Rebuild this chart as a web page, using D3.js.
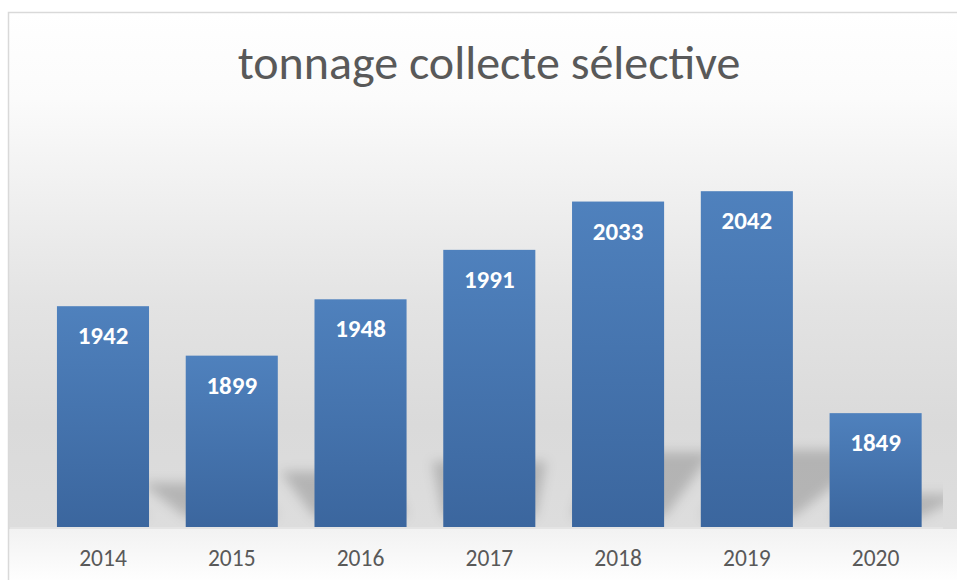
<!DOCTYPE html>
<html>
<head>
<meta charset="utf-8">
<script src="https://cdn.jsdelivr.net/npm/d3@7"></script>
<style>
  html, body { margin: 0; padding: 0; background: #fff; }
  svg { display: block; }
</style>
</head>
<body>
<div class="chart"></div>
<script>
// données
const years = ['2014', '2015', '2016', '2017', '2018', '2019', '2020']
const tonnage = [1942, 1899, 1948, 1991, 2033, 2042, 1849]
const yDomain = [1750, 2100]
const title = 'tonnage collecte sélective'

const W = 957, H = 580
const plot = { left: 38.6, right: 940, top: 124.5, bottom: 527 }
const font = 'Carlito, Calibri, Lato, sans-serif'

const svg = d3.select('.chart')
    .append('svg')
    .attr('width', W)
    .attr('height', H)

const defs = svg.append('defs')

// fond du graphique : dégradé blanc -> gris
const bg = defs.append('linearGradient')
    .attr('id', 'bg')
    .attr('gradientUnits', 'userSpaceOnUse')
    .attr('x1', 0).attr('y1', 12).attr('x2', 0).attr('y2', plot.bottom)
;[[0, '#ffffff'], [0.17, '#fbfbfb'], [0.35, '#f0f0f0'], [0.57, '#e3e3e3'], [0.8, '#dadada'], [1, '#dddddd']]
    .forEach(([o, c]) => bg.append('stop').attr('offset', o).attr('stop-color', c))

const floor = defs.append('linearGradient')
    .attr('id', 'floor')
    .attr('x1', 0).attr('y1', 0).attr('x2', 0).attr('y2', 1)
floor.append('stop').attr('offset', 0).attr('stop-color', '#f2f2f2')
floor.append('stop').attr('offset', 1).attr('stop-color', '#fefefe')

// dégradé des barres
const barGrad = defs.append('linearGradient')
    .attr('id', 'bar')
    .attr('x1', 0).attr('y1', 0).attr('x2', 0).attr('y2', 1)
barGrad.append('stop').attr('offset', 0).attr('stop-color', '#4f81bd')
barGrad.append('stop').attr('offset', 1).attr('stop-color', '#3b669e')

defs.append('filter')
    .attr('id', 'blur')
    .attr('x', '-50%').attr('y', '-50%').attr('width', '200%').attr('height', '200%')
    .append('feGaussianBlur')
    .attr('stdDeviation', 6)

// échelles
const x = d3.scaleBand()
    .domain(years)
    .range([plot.left, plot.right])
    .paddingInner(0.285)
    .paddingOuter(0.1425)

const y = d3.scaleLinear()
    .domain(yDomain)
    .range([plot.bottom, plot.top])

// l'ombre ne dépasse pas à gauche de la première barre
const clipLeft = x(years[0])
defs.append('clipPath')
    .attr('id', 'plotClip')
    .append('rect')
    .attr('x', clipLeft).attr('y', 12)
    .attr('width', 943 - clipLeft).attr('height', plot.bottom - 12)

svg.append('rect')
    .attr('x', 9).attr('y', 13)
    .attr('width', W).attr('height', plot.bottom + 2 - 13)
    .attr('fill', 'url(#bg)')

svg.append('rect')
    .attr('x', 9).attr('y', plot.bottom + 2)
    .attr('width', W).attr('height', H - plot.bottom - 2)
    .attr('fill', 'url(#floor)')

svg.append('rect')
    .attr('x', 10).attr('y', plot.bottom)
    .attr('width', 933).attr('height', 2)
    .attr('fill', '#e4e4e4')

// bordure
svg.append('rect')
    .attr('x', 8.5).attr('y', 12.5)
    .attr('width', W + 20).attr('height', H + 20)
    .attr('fill', 'none')
    .attr('stroke', '#d9d9d9')
    .attr('stroke-width', 1.5)

// ombre en perspective, décollée du sol et qui s'écarte du centre
const cx = (plot.left + plot.right) / 2
const squash = 0.2
const lift = 10
const spread = 1.3 / 304
const shadowPts = d => {
    const x0 = x(d.year), x1 = x0 + x.bandwidth()
    const h = (plot.bottom - y(d.value)) * squash
    const base = plot.bottom - lift
    const top = base - h
    const sx = v => v + (v - cx) * spread * h
    return [[x0, base], [x1, base], [sx(x1), top], [sx(x0), top]]
}

const data = years.map((year, i) => ({ year, value: tonnage[i] }))

svg.append('g')
    .attr('clip-path', 'url(#plotClip)')
    .append('g')
    .attr('filter', 'url(#blur)')
    .selectAll('polygon')
    .data(data)
    .enter()
    .append('polygon')
    .attr('points', d => shadowPts(d).join(' '))
    .attr('fill', '#000')
    .attr('fill-opacity', 0.18)

// barres
const bars = svg.selectAll('g.bar')
    .data(data)
    .enter()
    .append('g')
    .attr('class', 'bar')

bars.append('rect')
    .attr('x', d => x(d.year))
    .attr('y', d => y(d.value))
    .attr('width', x.bandwidth())
    .attr('height', d => plot.bottom - y(d.value))
    .attr('fill', 'url(#bar)')

// étiquettes de valeur
bars.append('text')
    .attr('x', d => x(d.year) + x.bandwidth() / 2)
    .attr('y', d => y(d.value) + 38)
    .attr('text-anchor', 'middle')
    .attr('font-family', font)
    .attr('font-weight', 'bold')
    .attr('font-size', '25px')
    .attr('fill', '#fff')
    .text(d => d.value)

// axe des années
const xAxis = svg.append('g')
    .attr('transform', `translate(0, ${plot.bottom})`)
    .call(d3.axisBottom(x).tickSize(0).tickPadding(0))
xAxis.select('.domain').remove()
xAxis.selectAll('text')
    .attr('y', 39)
    .attr('dy', 0)
    .attr('font-family', font)
    .attr('font-size', '23.5px')
    .attr('fill', '#595959')

// titre
svg.append('text')
    .attr('x', 489)
    .attr('y', 79)
    .attr('text-anchor', 'middle')
    .attr('font-family', font)
    .attr('font-size', '48px')
    .attr('fill', '#595959')
    .text(title)
</script>
</body>
</html>
